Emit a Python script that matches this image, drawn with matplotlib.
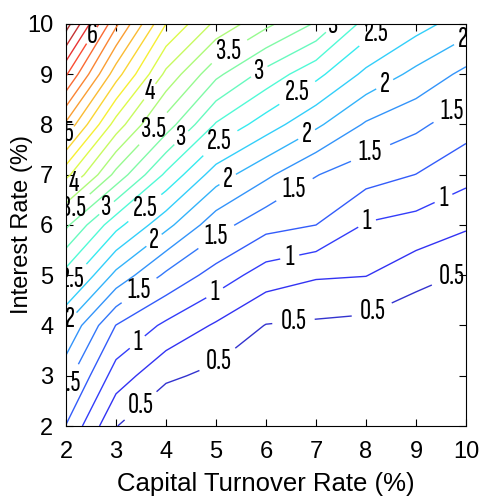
import numpy as np
import matplotlib
matplotlib.use("Agg")
import matplotlib.pyplot as plt
from matplotlib.colors import Normalize, ListedColormap

plt.rcParams['font.family'] = ['Liberation Sans', 'DejaVu Sans']

# capital turnover rate (%) along x, interest rate (%) along y
turnover = [2, 3, 4, 5, 6, 7, 8, 9, 10]
interest = [2, 3, 4, 5, 6, 7, 8, 9, 10]

# values, one row per interest rate
z_i2 = [1.24, 0.51, 0.22, 0.18, 0.12, 0.10, 0.08, 0.06, 0.05]
z_i3 = [1.59, 0.885, 0.55, 0.43, 0.25, 0.20, 0.18, 0.14, 0.10]
z_i4 = [1.98, 1.243, 0.95, 0.718, 0.49, 0.46, 0.43, 0.30, 0.20]
z_i5 = [2.65, 1.93, 1.45, 1.145, 0.88, 0.777, 0.757, 0.599, 0.47]
z_i6 = [3.30, 2.58, 2.075, 1.60, 1.333, 1.25, 0.978, 0.906, 0.788]
z_i7 = [4.33, 3.42, 2.70, 2.125, 1.80, 1.51, 1.357, 1.246, 1.076]
z_i8 = [5.20, 4.14, 3.38, 2.726, 2.375, 2.05, 1.72, 1.556, 1.356]
z_i9 = [6.03, 4.86, 3.94, 3.31, 2.91, 2.57, 2.19, 1.933, 1.685]
z_i10 = [6.87, 5.55, 4.50, 3.94, 3.56, 3.22, 2.65, 2.35, 2.12]

# where the labels sit, per level
label_pos = {
    0.5: [(3.44, 2.46), (5.0, 3.35), (6.55, 4.08), (8.11, 4.31), (9.68, 5.04)],
    1.0: [(3.4, 3.7), (4.94, 4.71), (6.48, 5.34), (8.0, 6.1), (9.55, 6.53)],
    1.5: [(2.2, 2.78), (3.46, 4.7), (4.98, 5.8), (6.51, 6.8), (8.08, 7.46), (9.68, 8.32)],
    2.0: [(2.15, 4.05), (3.78, 5.67), (5.2, 6.96), (6.78, 7.86), (8.38, 8.79), (9.91, 9.72)],
    2.5: [(2.24, 4.8), (3.55, 6.37), (5.08, 7.63), (6.61, 8.65), (8.21, 9.81)],
    3.0: [(2.81, 6.34), (4.35, 7.69), (5.86, 9.06), (7.42, 9.88)],
    3.5: [(2.15, 6.34), (3.73, 7.93), (5.26, 9.46)],
    4.0: [(2.16, 6.82), (3.61, 8.7)],
    5.0: [(2.1, 7.76)],
    6.0: [(2.44, 9.82)],
}

X, Y = np.meshgrid(turnover, interest)
Z = np.array([z_i2, z_i3, z_i4, z_i5, z_i6, z_i7, z_i8, z_i9, z_i10])

fig = plt.figure(figsize=(4.86, 5.01), dpi=100)
ax = fig.add_axes([0.1358, 0.1497, 0.823, 0.8024])

levels = np.arange(0.5, 7.0, 0.25)
norm = Normalize(Z.min(), Z.max())
# jet, a little washed out like the scanned original
jet = plt.get_cmap('jet')(np.linspace(0, 1, 256))
jet[:, :3] = 0.78 * jet[:, :3] + 0.2
cmap = ListedColormap(jet)

plain = [l for l in levels if l not in label_pos]
ax.contour(X, Y, Z, levels=plain, cmap=cmap, norm=norm, linewidths=1.0)

label_font = ['Sofia Sans Extra Condensed', 'Barlow Condensed', 'DejaVu Sans']

# labelled levels drawn one by one so each gets its own manual labels
for lev, pos in label_pos.items():
    cs = ax.contour(X, Y, Z, levels=[lev], colors=[cmap(norm(lev))], linewidths=1.0)
    texts = cs.clabel(manual=pos, inline=True, inline_spacing=2,
                      fmt='%g', fontsize=20, colors='k')
    for t in texts:
        t.set_rotation(0)
        t.set_fontfamily(label_font)
        t.set_fontsize(22)
        t.set_clip_path(ax.patch)

ax.set_xlim(2, 10)
ax.set_ylim(2, 10)
ax.set_xticks(turnover)
ax.set_yticks(interest)
ax.tick_params(direction='in', top=True, right=True, length=5, labelsize=17)
ax.tick_params(axis='x', pad=11)
ax.tick_params(axis='y', pad=9)
ax.set_xlabel('Capital Turnover Rate (%)', fontsize=18.5, labelpad=6)
ax.set_ylabel('Interest Rate (%)', fontsize=17, labelpad=-4)

fig.savefig('out.png', dpi=100)
